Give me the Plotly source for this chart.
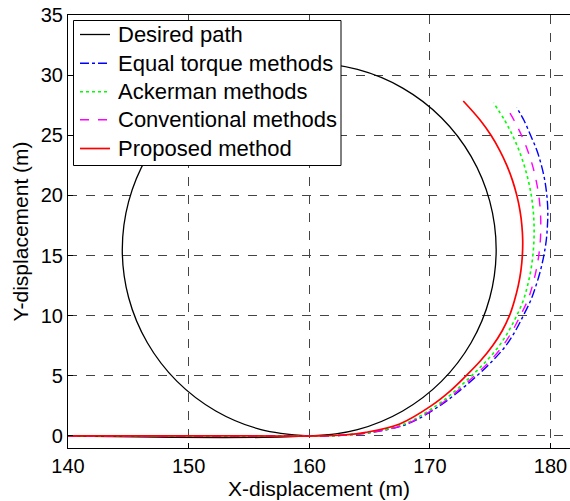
import plotly.graph_objects as go

# Desired path (straight approach then circle)
desired_x = [140, 160, 164.0, 167.75, 170.96, 173.42, 174.97, 175.5, 174.97, 173.42, 170.96,
             167.75, 164.0, 160, 156.0, 152.25, 149.04, 146.58, 145.03, 144.5, 145.03,
             146.58, 149.04, 152.25, 156.0, 160]
desired_y = [0, 0, 0.53, 2.08, 4.54, 7.75, 11.49, 15.5, 19.51, 23.25, 26.46,
             28.92, 30.47, 31.0, 30.47, 28.92, 26.46, 23.25, 19.51, 15.5, 11.49,
             7.75, 4.54, 2.08, 0.53, 0]

equal_x = [140, 155, 161.0, 163.1, 165.2, 168.15, 170.8, 172.45, 173.9, 175.2, 176.3,
           177.1, 177.75, 178.35, 178.8, 179.17, 179.45, 179.65, 179.75, 179.78, 179.7,
           179.53, 179.25, 178.87, 178.35, 177.8, 177.19]
equal_y = [0, 0, 0, 0.08, 0.3, 1.0, 2.5, 3.75, 5, 6.25, 7.5,
           8.75, 10, 11.25, 12.5, 13.75, 15, 16.25, 17.5, 18.75, 20,
           21.25, 22.5, 23.75, 25, 26.25, 27.32]

acker_x = [140, 155, 161.0, 163.0, 165.0, 167.9, 170.5, 172.1, 173.45, 174.7, 175.75,
           176.55, 177.2, 177.74, 178.1, 178.37, 178.54, 178.63, 178.64, 178.57, 178.41,
           178.16, 177.82, 177.39, 176.85, 176.2, 175.28]
acker_y = [0, 0, 0, 0.08, 0.3, 1.0, 2.5, 3.75, 5, 6.25, 7.5,
           8.75, 10, 11.25, 12.5, 13.75, 15, 16.25, 17.5, 18.75, 20,
           21.25, 22.5, 23.75, 25, 26.25, 27.7]

conv_x = [140, 155, 161.0, 163.05, 165.1, 168.05, 170.7, 172.3, 173.7, 175.0, 176.05,
          176.85, 177.5, 178.1, 178.51, 178.81, 179.03, 179.16, 179.2, 179.16, 179.03,
          178.81, 178.51, 178.1, 177.6, 176.98, 176.32]
conv_y = [0, 0, 0, 0.08, 0.3, 1.0, 2.5, 3.75, 5, 6.25, 7.5,
          8.75, 10, 11.25, 12.5, 13.75, 15, 16.25, 17.5, 18.75, 20,
          21.25, 22.5, 23.75, 25, 26.25, 27.37]

prop_x = [140, 155, 160.9, 162.9, 164.7, 167.5, 170.1, 171.7, 173.0, 174.2, 175.2,
          176.0, 176.6, 177.01, 177.33, 177.55, 177.67, 177.7, 177.63, 177.47, 177.21,
          176.85, 176.38, 175.79, 175.07, 174.18, 172.77]
prop_y = [0, 0, 0, 0.08, 0.3, 1.0, 2.5, 3.75, 5, 6.25, 7.5,
          8.75, 10, 11.25, 12.5, 13.75, 15, 16.25, 17.5, 18.75, 20,
          21.25, 22.5, 23.75, 25, 26.25, 27.85]

x_ticks = [140, 150, 160, 170, 180]
y_ticks = [0, 5, 10, 15, 20, 25, 30, 35]

series = [
    ("Desired path", desired_x, desired_y, "black", "solid", 1.3),
    ("Equal torque methods", equal_x, equal_y, "#0000ff", "dashdot", 1.4),
    ("Ackerman methods", acker_x, acker_y, "#00ff00", "dot", 1.6),
    ("Conventional methods", conv_x, conv_y, "#ff00ff", "dash", 1.4),
    ("Proposed method", prop_x, prop_y, "#ff0000", "solid", 1.7),
]

# plot-area geometry (pixels) used to place the hand-built legend box
L, R, T, B = 68, 570, 15, 448
W, H = R - L, B - T


def px(xp):
    return (xp - L) / W


def py(yp):
    return (B - yp) / H


fig = go.Figure()
for i, (name, xs, ys, col, dash, w) in enumerate(series):
    fig.add_trace(go.Scatter(
        x=xs, y=ys, mode="lines", name=name, showlegend=False,
        line=dict(color=col, dash=dash, width=w, shape="spline", smoothing=1.0),
    ))

font = "Liberation Sans, Arial, sans-serif"

# legend box
fig.add_shape(type="rect", xref="paper", yref="paper",
              x0=px(73.5), x1=px(341), y0=py(165.5), y1=py(20.5),
              line=dict(color="black", width=1), fillcolor="white", layer="above")
row_y = [34.5, 63.3, 91.8, 119.8, 148.5]
for (name, xs, ys, col, dash, w), ry in zip(series, row_y):
    fig.add_shape(type="line", xref="paper", yref="paper",
                  x0=px(80), x1=px(110), y0=py(ry), y1=py(ry),
                  line=dict(color=col, dash=dash, width=w), layer="above")
    fig.add_annotation(xref="paper", yref="paper", x=px(115.5), y=py(ry),
                       xanchor="left", yanchor="middle", showarrow=False,
                       text=name, font=dict(family=font, size=22, color="black"))

fig.update_layout(
    width=570, height=501,
    margin=dict(l=L, r=570 - R, t=T, b=501 - B),
    paper_bgcolor="white", plot_bgcolor="white",
    font=dict(family=font, size=20, color="black"),
    showlegend=False,
    xaxis=dict(
        range=[140, 181.62], tickvals=x_ticks, ticktext=[str(v) for v in x_ticks],
        showgrid=True, gridcolor="#444444", griddash="dash", gridwidth=1,
        showline=True, linecolor="black", linewidth=1.2, mirror=True,
        ticks="inside", ticklen=5, tickcolor="black", zeroline=False,
        title=dict(text="X-displacement (m)", standoff=4, font=dict(size=21)),
        tickfont=dict(size=20),
    ),
    yaxis=dict(
        range=[-1, 35], tickvals=y_ticks, ticktext=[str(v) for v in y_ticks],
        showgrid=True, gridcolor="#444444", griddash="dash", gridwidth=1,
        showline=True, linecolor="black", linewidth=1.2, mirror=False,
        ticks="inside", ticklen=5, tickcolor="black", zeroline=False,
        title=dict(text="Y-displacement (m)", standoff=6, font=dict(size=21)),
        tickfont=dict(size=20),
    ),
)

fig.write_html("out.html")
